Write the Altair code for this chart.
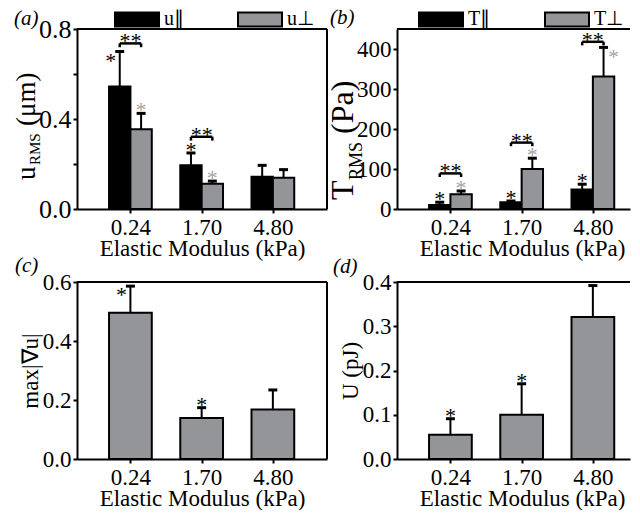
import altair as alt
import pandas as pd

FONT = "Liberation Serif"
GRAY = "#939598"
GRAY_STAR = "#a2a4a7"

categories = ["0.24", "1.70", "4.80"]

# (a) displacement u_RMS (um)
u_par = [0.545, 0.195, 0.143]
u_par_err = [0.155, 0.054, 0.051]
u_perp = [0.354, 0.112, 0.139]
u_perp_err = [0.071, 0.012, 0.036]
u_par_star = ["left", "above", ""]
u_perp_star = ["above", "above", ""]
u_bracket = [0.736, 0.321, None]

# (b) traction T_RMS (Pa)
T_par = [10, 17, 49]
T_par_err = [7, 3, 13]
T_perp = [37, 100, 331]
T_perp_err = [8, 27, 73]
T_par_star = ["above", "above", "above"]
T_perp_star = ["above", "above", "right"]
T_bracket = [89, 166, 418]

# (c) max |grad u|
grad = [0.496, 0.139, 0.168]
grad_err = [0.090, 0.035, 0.066]
grad_star = ["left", "above", ""]

# (d) strain energy U (pJ)
energy = [0.055, 0.100, 0.321]
energy_err = [0.036, 0.070, 0.071]
energy_star = ["above", "above", ""]

WIDTH = 250          # left column panels
WIDTH_R = 233        # right column panels (cut by the page edge, as in the figure)
XDOM = [-0.75, 2.76]
XDOM_R = [XDOM[0], XDOM[0] + (XDOM[1] - XDOM[0]) * WIDTH_R / WIDTH]
HALF = 0.3
CAP = 0.063


def bar_rows(vals, errs, stars, series, offset, half):
    rows = []
    for i, (v, e, s) in enumerate(zip(vals, errs, stars)):
        c = i + offset
        rows.append(dict(idx=i, series=series, value=v, base=0, top=v + e,
                         x0=c - half, x1=c + half, xc=c,
                         c0=c - CAP, c1=c + CAP, star=s))
    return rows


x_label_expr = "[" + ",".join("'%s'" % c for c in categories) + "][datum.value]"


def xaxis():
    return alt.Axis(values=[0, 1, 2], labelExpr=x_label_expr, title="Elastic Modulus (kPa)",
                    labelPadding=3, titlePadding=-2, labelFlush=False, titleX=125)


def make_panel(df, xdom, width, right_frame, ydom, yvals, ymajor, yfmt, ytitle, height,
               fill_enc, star_color, brackets=None, letter=None, letter_pos=None,
               ytitle_parts=None, ylabel_size=23):
    df = df.copy()
    df["fx0"] = xdom[0]
    df["fx1"] = xdom[1]
    df["fy0"] = ydom[0]
    df["fy1"] = ydom[1]
    base = alt.Chart(df)
    yaxis = alt.Axis(values=yvals,
                     labelExpr="indexof(%s, datum.value) >= 0 ? format(datum.value, '%s') : ''"
                               % (str(ymajor), yfmt),
                     title=ytitle, titlePadding=0, labelFontSize=ylabel_size)
    ysc = alt.Scale(domain=ydom, nice=False, zero=True)
    xsc = alt.Scale(domain=xdom, nice=False, zero=False)
    bars = base.mark_bar(stroke="black", strokeWidth=2).encode(
        x=alt.X("x0:Q", scale=xsc, axis=xaxis()),
        x2="x1:Q",
        y=alt.Y("value:Q", scale=ysc, axis=yaxis),
        y2="base:Q",
        fill=fill_enc,
    )
    err = base.mark_rule(color="black", strokeWidth=2).encode(
        x="xc:Q", y="value:Q", y2="top:Q")
    cap = base.mark_rule(color="black", strokeWidth=3).encode(
        x="c0:Q", x2="c1:Q", y="top:Q")
    frame_top = base.mark_rule(color="black", strokeWidth=2).encode(
        x="fx0:Q", x2="fx1:Q", y="fy1:Q")
    layers = [bars, err, cap, frame_top]
    if right_frame:
        layers.append(base.mark_rule(color="black", strokeWidth=2).encode(
            x="fx1:Q", y="fy0:Q", y2="fy1:Q"))
    for place, dx, dy in [("above", 0, -3), ("left", -9, 9), ("right", 10, 10)]:
        layers.append(
            base.mark_text(text="*", font=FONT, fontSize=22, baseline="middle", dx=dx, dy=dy)
            .encode(x="xc:Q", y="top:Q", color=star_color)
            .transform_filter(alt.datum.star == place)
        )
    if brackets is not None:
        bb = alt.Chart(brackets)
        layers.append(bb.mark_rule(color="black", strokeWidth=2.5).encode(
            x="b0:Q", x2="b1:Q", y="by:Q"))
        layers.append(bb.mark_rule(color="black", strokeWidth=2.5).encode(
            x="b0:Q", y="by:Q", y2="bl:Q"))
        layers.append(bb.mark_rule(color="black", strokeWidth=2.5).encode(
            x="b1:Q", y="by:Q", y2="bl:Q"))
        layers.append(bb.mark_text(text="**", font=FONT, fontSize=22, baseline="middle", dy=-2)
                      .encode(x="bc:Q", y="by:Q"))
    if letter is not None:
        layers.append(alt.Chart(pd.DataFrame({"t": [letter]})).mark_text(
            font=FONT, fontSize=21, fontStyle="italic", align="left", baseline="alphabetic")
            .encode(x=alt.value(letter_pos[0]), y=alt.value(letter_pos[1]), text="t:N"))
    if ytitle_parts is not None:
        for txt, fs, px, py in ytitle_parts:
            layers.append(alt.Chart(pd.DataFrame({"t": [txt]})).mark_text(
                font=FONT, fontSize=fs, angle=270, align="left", baseline="alphabetic")
                .encode(x=alt.value(px), y=alt.value(py), text="t:N"))
    return alt.layer(*layers).properties(width=width, height=height)


def bracket_df(levels, leg):
    rows = []
    for i, b in enumerate(levels):
        if b is None:
            continue
        rows.append(dict(b0=i - HALF / 2, b1=i + HALF / 2, bc=i, by=b, bl=b - leg))
    return pd.DataFrame(rows)


def legend(x, y):
    return alt.Legend(orient="none", legendX=x, legendY=y, direction="horizontal", title=None,
                      symbolType="M-1,-0.32H1V0.32H-1Z", symbolSize=1936,
                      symbolStrokeColor="black", symbolStrokeWidth=2, symbolOpacity=1,
                      labelFont=FONT, labelFontSize=20, labelColor="black", labelOffset=4,
                      columnPadding=50, padding=0)


star_color = alt.condition("datum.series == 'par'", alt.value("black"), alt.value(GRAY_STAR))

# panel a
df_a = pd.DataFrame(bar_rows(u_par, u_par_err, u_par_star, "par", -HALF / 2, HALF / 2)
                    + bar_rows(u_perp, u_perp_err, u_perp_star, "perp", HALF / 2, HALF / 2))
df_a["name"] = df_a["series"].map({"par": "u\u2225", "perp": "u\u22a5"})
fill_a = alt.Fill("name:N", scale=alt.Scale(domain=["u\u2225", "u\u22a5"], range=["black", GRAY]),
                  legend=legend(37, -33))
pa = make_panel(df_a, XDOM, WIDTH, True, [0, 0.8], [0, 0.2, 0.4, 0.6, 0.8], [0, 0.4, 0.8], ".1f",
                None, 180, fill_a, star_color, brackets=bracket_df(u_bracket, 0.017),
                letter="(a)", letter_pos=(-63, -4),
                ytitle_parts=[("u", 27, -42, 151), ("RMS", 15, -37, 136), ("(\u03bcm)", 27, -42, 97)],
                ylabel_size=26)

# panel b
df_b = pd.DataFrame(bar_rows(T_par, T_par_err, T_par_star, "par", -HALF / 2, HALF / 2)
                    + bar_rows(T_perp, T_perp_err, T_perp_star, "perp", HALF / 2, HALF / 2))
df_b["name"] = df_b["series"].map({"par": "T\u2225", "perp": "T\u22a5"})
fill_b = alt.Fill("name:N", scale=alt.Scale(domain=["T\u2225", "T\u22a5"], range=["black", GRAY]),
                  legend=legend(21, -33))
pb = make_panel(df_b, XDOM_R, WIDTH_R, False, [0, 450], [0, 100, 200, 300, 400],
                [0, 100, 200, 300, 400], "d", None, 180,
                fill_b, star_color, brackets=bracket_df(T_bracket, 9),
                letter="(b)", letter_pos=(-67, -5),
                ytitle_parts=[("T", 32, -44, 171), ("RMS", 18, -35, 151), ("(Pa)", 32, -44, 105)])

# panel c
df_c = pd.DataFrame(bar_rows(grad, grad_err, grad_star, "single", 0, HALF))
pc = make_panel(df_c, XDOM, WIDTH, True, [0, 0.6], [0, 0.1, 0.2, 0.3, 0.4, 0.5, 0.6],
                [0, 0.2, 0.4, 0.6], ".1f", "max|\u2207u|", 177, alt.value(GRAY), alt.value("black"),
                letter="(c)", letter_pos=(-62, -10))

# panel d
df_d = pd.DataFrame(bar_rows(energy, energy_err, energy_star, "single", 0, HALF))
pd_ = make_panel(df_d, XDOM_R, WIDTH_R, False, [0, 0.4], [0, 0.1, 0.2, 0.3, 0.4],
                 [0, 0.1, 0.2, 0.3, 0.4], ".1f", "U (pJ)", 177, alt.value(GRAY), alt.value("black"),
                 letter="(d)", letter_pos=(-64, -9))

chart = alt.concat(pa, pb, pc, pd_, columns=2, spacing={"row": 73, "column": 70},
                   bounds="flush").resolve_scale(fill="independent").properties(
    padding={"left": 5, "top": -12, "right": 0, "bottom": 0}
).configure_view(strokeOpacity=0).configure_axis(
    domainColor="black", domainWidth=2, tickColor="black", tickWidth=2, tickSize=4,
    labelFont=FONT, labelFontSize=23, labelColor="black", labelPadding=2,
    titleFont=FONT, titleFontSize=23, titleColor="black", titleFontWeight="normal", grid=False
)

chart.save("out.html", embed_options={"renderer": "svg", "actions": False})
